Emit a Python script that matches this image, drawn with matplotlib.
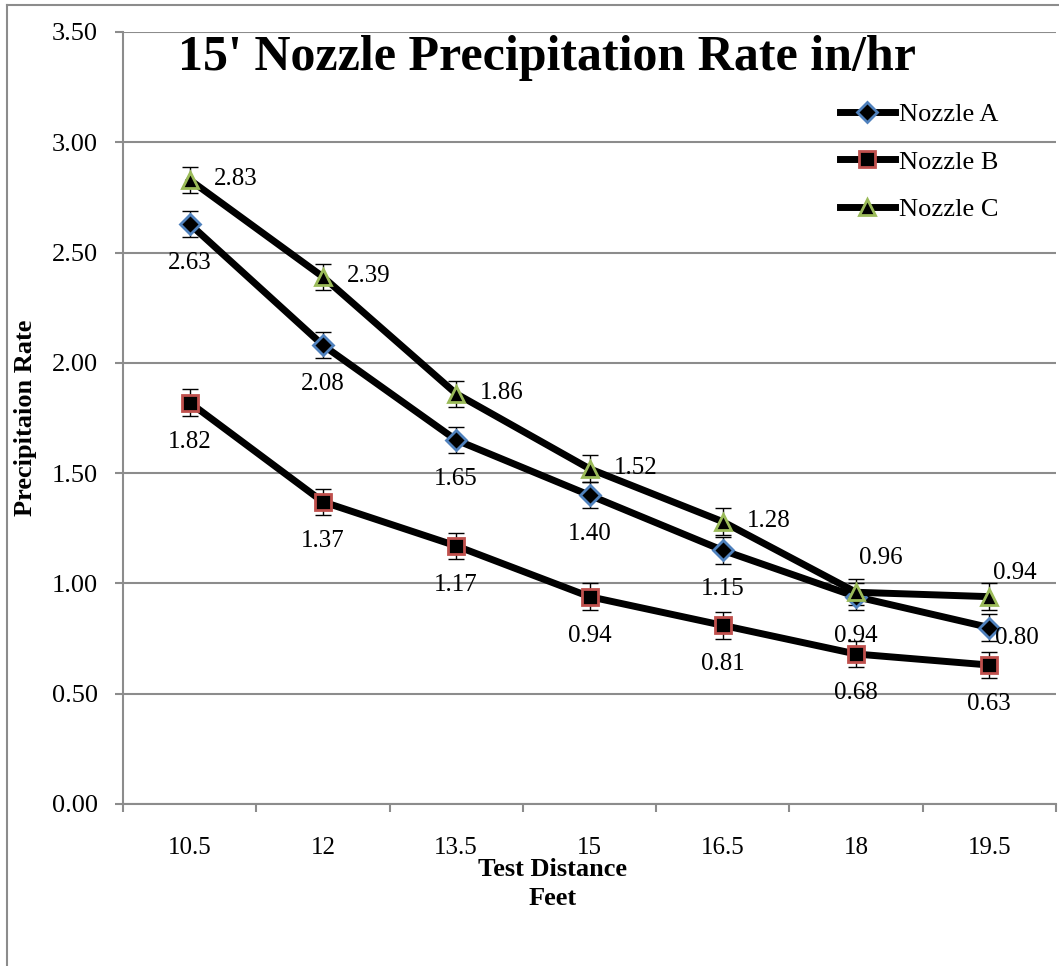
import numpy as np
import matplotlib
matplotlib.use('Agg')
from matplotlib import pyplot as plt
from matplotlib.lines import Line2D

plt.rcParams['font.family'] = ['Liberation Serif', 'DejaVu Serif']

distances = ['10.5', '12', '13.5', '15', '16.5', '18', '19.5']
nozzle_a = [2.63, 2.08, 1.65, 1.40, 1.15, 0.94, 0.80]
nozzle_b = [1.82, 1.37, 1.17, 0.94, 0.81, 0.68, 0.63]
nozzle_c = [2.83, 2.39, 1.86, 1.52, 1.28, 0.96, 0.94]
err = 0.06

W, H = 1059, 966
fig = plt.figure(figsize=(W / 100, H / 100), dpi=100)
ax = fig.add_axes([123 / W, 1 - 804 / H, (1056 - 123) / W, (804 - 32) / H])

grid_col = '#8c8c8c'
x = np.arange(len(distances))

# (marker, edge colour, size, data, label offsets in px (dx, dy, ha))
below = (0, -39, 'center')
series = [
    ('Nozzle A', 'D', '#4F81BD', 10, nozzle_a,
     [below] * 6 + [(28, -10, 'center')]),
    ('Nozzle B', 's', '#C0504D', 12, nozzle_b, [below] * 7),
    ('Nozzle C', '^', '#9BBB59', 12, nozzle_c,
     [(24, 1, 'left')] * 5 + [(25, 34, 'center'), (25, 24, 'center')]),
]

handles = []
for name, mk, ec, ms, vals, offs in series:
    ax.errorbar(x, vals, yerr=err, fmt='none', ecolor='black', elinewidth=1,
                capsize=6, capthick=1, zorder=3)
    ln, = ax.plot(x, vals, color='black', lw=5, marker=mk, ms=ms,
                  mfc='black', mec=ec, mew=2, zorder=4, label=name)
    handles.append(ln)
    for xi, v, (dx, dy, ha) in zip(x, vals, offs):
        ax.annotate('%.2f' % v, (xi, v), xytext=(dx, dy),
                    textcoords='offset pixels', ha=ha, va='center',
                    fontsize=18, zorder=5)

ax.set_xlim(-0.5, 6.5)
ax.set_ylim(0, 3.5)
ax.set_yticks(np.arange(0, 3.51, 0.5))
ax.set_yticklabels(['%.2f' % t for t in np.arange(0, 3.51, 0.5)])
ax.yaxis.grid(True, color=grid_col, lw=1.5)
ax.set_axisbelow(True)

ax.set_xticks(np.arange(-0.5, 6.6, 1))
ax.set_xticklabels([])
ax.set_xticks(x, minor=True)
ax.set_xticklabels(distances, minor=True)
ax.tick_params(axis='x', which='minor', length=0, pad=24, labelsize=18)
ax.tick_params(axis='x', which='major', length=6, width=1.5, color=grid_col)
ax.tick_params(axis='y', length=6, width=1.5, color=grid_col, pad=12,
               labelsize=19)

for s in ['top', 'right']:
    ax.spines[s].set_visible(False)
for s in ['left', 'bottom']:
    ax.spines[s].set_color(grid_col)
    ax.spines[s].set_linewidth(1.5)

fig.text(178 / W, 1 - 58 / H, "15' Nozzle Precipitation Rate in/hr",
         fontsize=36, fontweight='bold', ha='left', va='center')
fig.text(553 / W, 1 - 884 / H, 'Test Distance\nFeet', fontsize=19,
         fontweight='bold', ha='center', va='center', linespacing=1.3)
fig.text(26 / W, 1 - 418 / H, 'Precipitaion Rate', fontsize=19,
         fontweight='bold', rotation=90, ha='center', va='center')

ax.legend(handles=handles, loc='upper left', frameon=False,
          bbox_to_anchor=(840 / W, 1 - 103 / H), bbox_transform=fig.transFigure,
          fontsize=19, handlelength=2.08, handletextpad=0.15,
          labelspacing=0.9, borderpad=0, borderaxespad=0)

# outer chart border (cropped)
fig.add_artist(Line2D([7 / W, 7 / W], [0, 1 - 5 / H], color=grid_col, lw=1.5,
                      transform=fig.transFigure))
fig.add_artist(Line2D([7 / W, 1], [1 - 5 / H, 1 - 5 / H], color=grid_col,
                      lw=1.5, transform=fig.transFigure))

fig.savefig('out.png', dpi=100)
